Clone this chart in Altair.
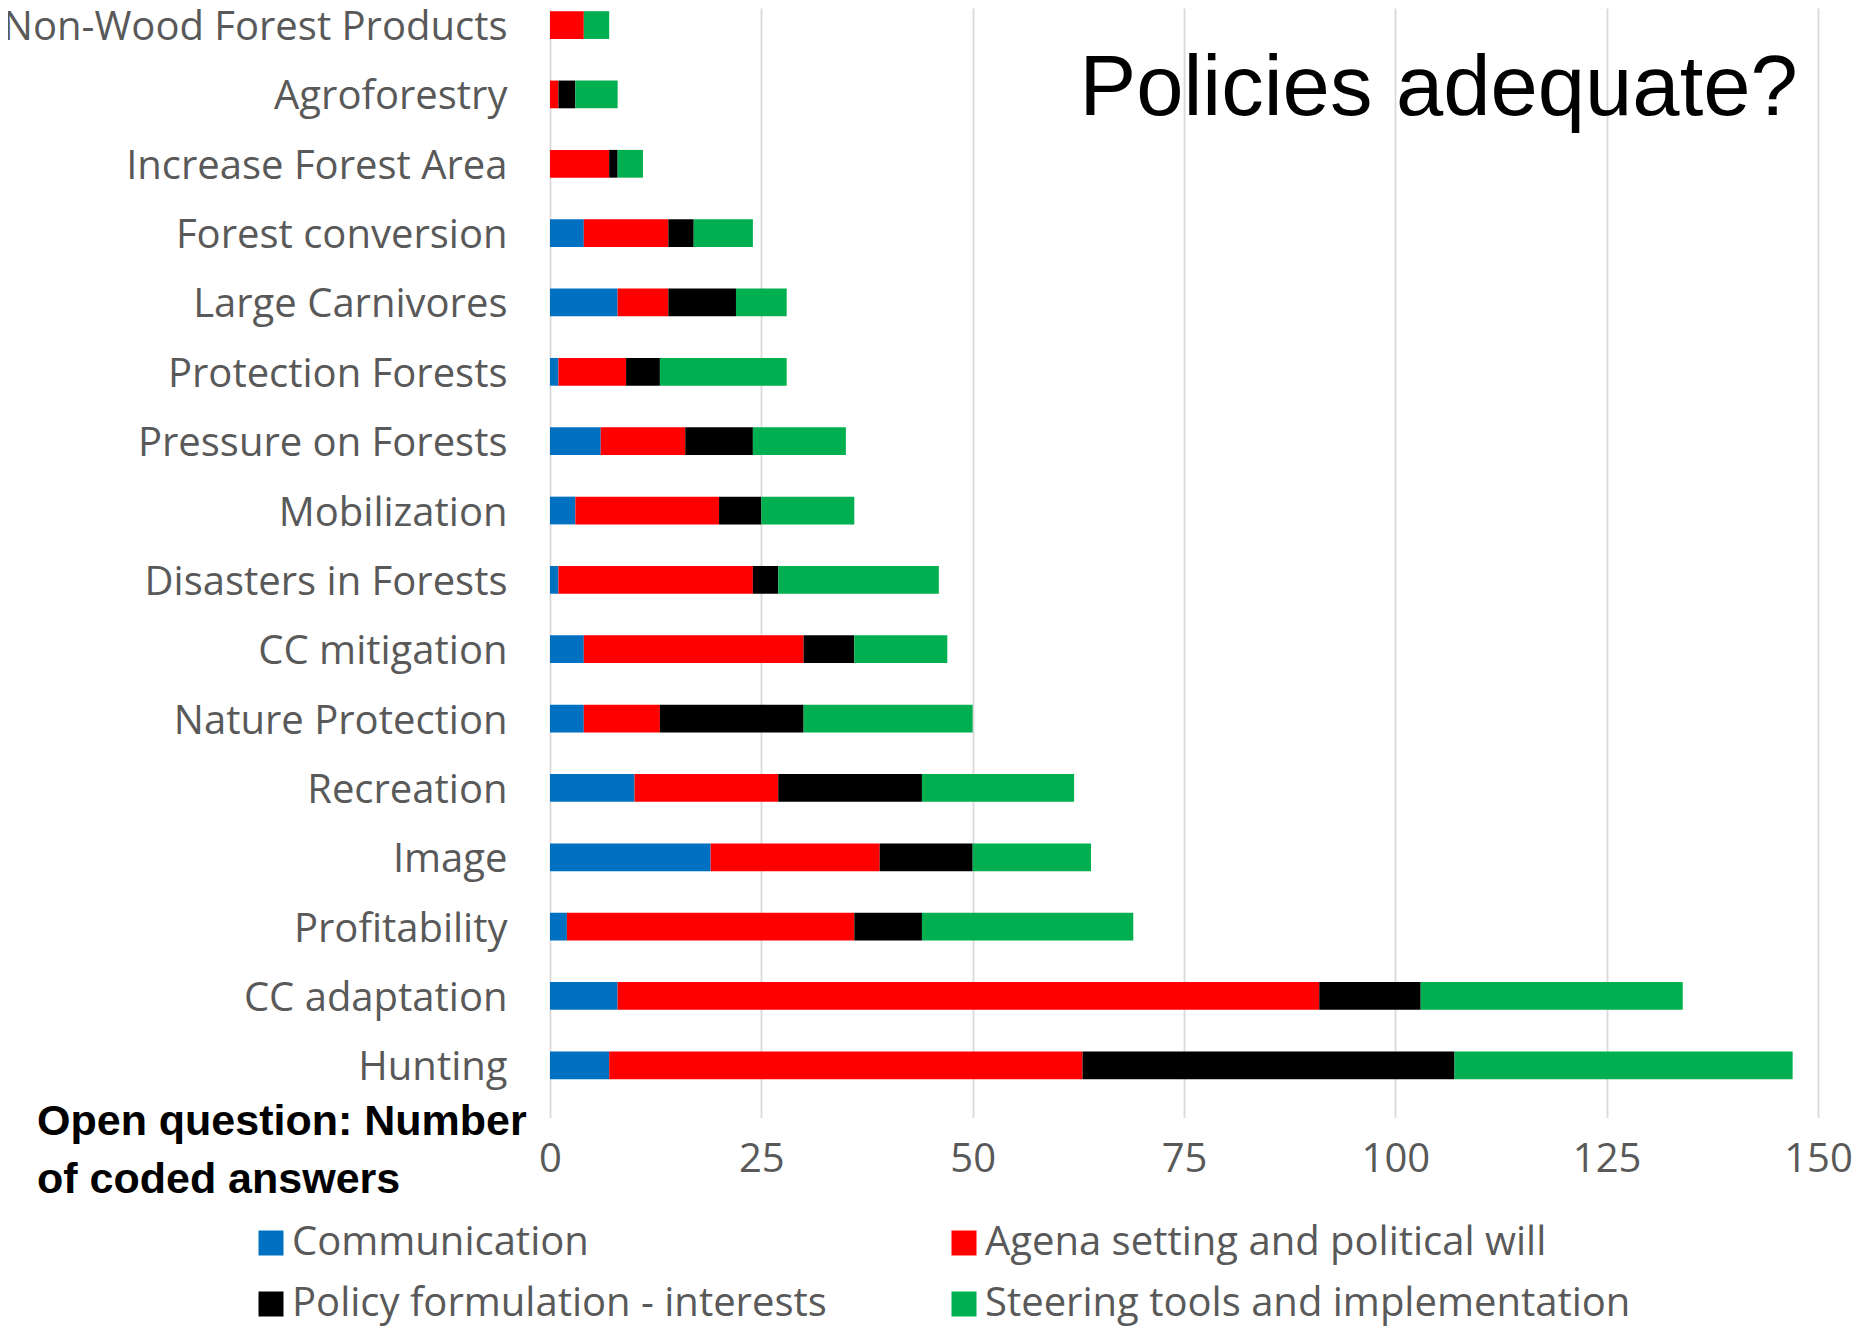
import altair as alt
import pandas as pd

categories = [
    "Non-Wood Forest Products", "Agroforestry", "Increase Forest Area",
    "Forest conversion", "Large Carnivores", "Protection Forests ",
    "Pressure on Forests", "Mobilization", "Disasters in Forests",
    "CC mitigation", "Nature Protection", "Recreation", "Image",
    "Profitability", "CC adaptation", "Hunting",
]
series_names = [
    "Communication",
    "Agena setting and political will",
    "Policy formulation - interests",
    "Steering tools and implementation",
]
communication = [0, 0, 0, 4, 8, 1, 6, 3, 1, 4, 4, 10, 19, 2, 8, 7]
agenda = [4, 1, 7, 10, 6, 8, 10, 17, 23, 26, 9, 17, 20, 34, 83, 56]
policy = [0, 2, 1, 3, 8, 4, 8, 5, 3, 6, 17, 17, 11, 8, 12, 44]
steering = [3, 5, 3, 7, 6, 15, 11, 11, 19, 11, 20, 18, 14, 25, 31, 40]
series_colors = ["#0070C0", "#FF0000", "#000000", "#00B050"]
x_ticks = [0, 25, 50, 75, 100, 125, 150]
chart_title = "Policies adequate?"
note_lines = ["Open question: Number", "of coded answers"]

rows = []
for s_idx, (name, vals) in enumerate(zip(series_names, [communication, agenda, policy, steering])):
    for cat, v in zip(categories, vals):
        rows.append({"category": cat, "series": name, "value": v, "order": s_idx})
df = pd.DataFrame(rows)

# legend is filled column by column: order the domain so rows read
# "Communication | Agena ..." and "Policy ... | Steering ..."
legend_idx = [0, 2, 1, 3]
legend_domain = [series_names[i] for i in legend_idx]
legend_colors = [series_colors[i] for i in legend_idx]

LABEL_FONT = "Open Sans"
GRAY = "#595959"

bars = alt.Chart(df).mark_bar().encode(
    y=alt.Y(
        "category:N",
        sort=categories,
        scale=alt.Scale(range=[-17.6, 1092], paddingInner=0.6, paddingOuter=0.3),
        axis=alt.Axis(
            title=None, domain=False, ticks=False, grid=False,
            labelFont=LABEL_FONT, labelFontSize=40, labelColor=GRAY,
            labelPadding=43, labelLimit=800, labelOffset=3,
        ),
    ),
    x=alt.X(
        "value:Q",
        stack="zero",
        scale=alt.Scale(domain=[0, 150], nice=False),
        axis=alt.Axis(
            title=None, values=x_ticks, domain=False, ticks=False,
            grid=True, gridColor="#d9d9d9", gridWidth=1.8,
            labelFont=LABEL_FONT, labelFontSize=40, labelColor=GRAY,
            labelPadding=39, labelFlush=False,
        ),
    ),
    color=alt.Color(
        "series:N",
        scale=alt.Scale(domain=legend_domain, range=legend_colors),
        legend=alt.Legend(
            title=None, orient="none", legendX=-299, legendY=1215,
            columns=2, symbolType="square", symbolSize=625,
            symbolStrokeWidth=0, labelFont=LABEL_FONT, labelFontSize=40,
            labelColor=GRAY, labelOffset=1, columnPadding=117,
            rowPadding=21, padding=0, labelLimit=800,
        ),
    ),
    order=alt.Order("order:Q"),
)

title_text = alt.Chart(alt.Data(values=[{"t": chart_title}])).mark_text(
    align="left", baseline="alphabetic", font="Liberation Sans",
    fontSize=85, color="black",
).encode(text="t:N", x=alt.value(529.5), y=alt.value(107))

note_text = alt.Chart(alt.Data(values=[{"k": 0}])).mark_text(
    text=note_lines, align="left", baseline="alphabetic",
    font="Liberation Sans", fontSize=43, fontWeight="bold",
    lineHeight=58, color="black",
).encode(x=alt.value(-513), y=alt.value(1127))

chart = alt.layer(bars, title_text, note_text).properties(
    width=1268,
    height=1092,
    autosize=alt.AutoSizeParams(type="none"),
    padding={"left": 542, "top": 0, "right": 38, "bottom": 231},
).configure_view(stroke=None)

chart.save("out.html", embed_options={"renderer": "svg", "actions": False})
